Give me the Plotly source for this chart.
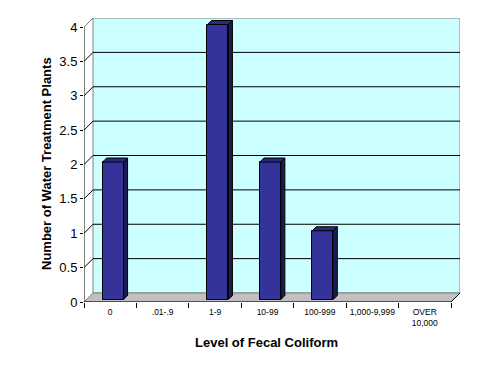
import plotly.graph_objects as go

# ---- data ----
categories = ["0", ".01-.9", "1-9", "10-99", "100-999", "1,000-9,999", "OVER<br>10,000"]
plants = [2, 0, 4, 2, 1, 0, 0]
y_ticks = [0, 0.5, 1, 1.5, 2, 2.5, 3, 3.5, 4]
y_tick_labels = ["0", "0.5", "1", "1.5", "2", "2.5", "3", "3.5", "4"]
x_title = "Level of Fecal Coliform"
y_title = "Number of Water Treatment Plants"

# ---- geometry / style ----
BODY = 8                 # default page margin of the html body
W, H = 491 - 2 * BODY, 374 - 2 * BODY
# target plot area in page pixels: left 84, top 18, right 460, bottom 302
ML, MT = 84 - BODY, 18 - BODY
MR = W - (460 - BODY)
MB = H - (302 - BODY)
PW, PH = W - ML - MR, H - MT - MB
n = len(categories)
ymax = max(y_ticks)
DEPTH_PX = 9            # depth of the 3-D floor / wall
BAR_DEPTH_PX = 4        # depth of each column
BAR_BACK_PX = 2.5       # column front face behind the front plane

x0, x1 = -0.5, n - 0.5
ppx = (PW - DEPTH_PX) / (x1 - x0)
ppy = (PH - DEPTH_PX) / ymax
DX, DY = DEPTH_PX / ppx, DEPTH_PX / ppy
bdx, bdy = BAR_DEPTH_PX / ppx, BAR_DEPTH_PX / ppy
bby = BAR_BACK_PX / ppy
xr = [x0, x1 + DX]
yr = [0, ymax + DY]

FONT = "Liberation Sans, Arial, Helvetica, sans-serif"
FRONT = "#333399"
TOP = "#2a2a80"
SIDE = "#1c1c55"
WALL = "#ccffff"
FLOOR = "#c0c0c0"
GRAY = "#808080"

bar_w = 0.40
bar_off = -0.145

xs = list(range(n))

fig = go.Figure()

# front faces of the columns
fig.add_trace(go.Bar(
    x=xs, y=plants, base=[bby] * n, width=bar_w, offset=bar_off,
    marker=dict(color=FRONT,
                line=dict(color="black", width=[1 if v else 0 for v in plants])),
    showlegend=False, hoverinfo="skip",
))

# side and top faces
for xi, v in zip(xs, plants):
    if not v:
        continue
    l = xi + bar_off
    r = l + bar_w
    b = bby
    t = bby + v
    fig.add_trace(go.Scatter(
        x=[r, r + bdx, r + bdx, r, r], y=[b, b + bdy, t + bdy, t, b],
        mode="lines", fill="toself", fillcolor=SIDE,
        line=dict(color="black", width=1), showlegend=False, hoverinfo="skip"))
    fig.add_trace(go.Scatter(
        x=[l, r, r + bdx, l + bdx, l], y=[t, t, t + bdy, t + bdy, t],
        mode="lines", fill="toself", fillcolor=TOP,
        line=dict(color="black", width=1), showlegend=False, hoverinfo="skip"))

shapes = []
# back wall
shapes.append(dict(type="rect", xref="x", yref="y", layer="below",
                   x0=x0 + DX, x1=x1 + DX, y0=DY, y1=ymax + DY,
                   fillcolor=WALL, line=dict(color=GRAY, width=1)))
# floor
shapes.append(dict(type="path", xref="x", yref="y", layer="below",
                   path=f"M {x0},0 L {x1},0 L {x1 + DX},{DY} L {x0 + DX},{DY} Z",
                   fillcolor=FLOOR, line=dict(color=GRAY, width=1)))
# gridlines with side connectors
for v in y_ticks:
    if v == 0:
        continue
    col = GRAY if v == ymax else "black"
    shapes.append(dict(type="path", xref="x", yref="y", layer="below",
                       path=f"M {x0},{v} L {x0 + DX},{v + DY}" +
                            ("" if v == ymax else f" L {x1 + DX},{v + DY}"),
                       line=dict(color=col, width=1)))
# left floor edge
shapes.append(dict(type="line", xref="x", yref="y", layer="below",
                   x0=x0, y0=0, x1=x0 + DX, y1=DY, line=dict(color=GRAY, width=1)))
# front axis lines
shapes.append(dict(type="line", xref="x", yref="y", layer="above",
                   x0=x0, y0=0, x1=x0, y1=ymax, line=dict(color="black", width=1)))
shapes.append(dict(type="line", xref="x", yref="y", layer="above",
                   x0=x0, y0=0, x1=x1, y1=0, line=dict(color="black", width=1)))
shapes.append(dict(type="line", xref="x", yref="y", layer="above",
                   x0=x1, y0=0, x1=x1 + DX, y1=DY, line=dict(color="black", width=1)))

def px2paper_x(p):
    return (p - BODY - ML) / PW

def px2paper_y(p):
    return (H - MB - (p - BODY)) / PH

annotations = [
    dict(text=f"<b>{x_title}</b>", xref="paper", yref="paper",
         x=px2paper_x(266), y=px2paper_y(342), showarrow=False,
         xanchor="center", yanchor="middle",
         font=dict(family=FONT, size=13, color="black")),
    dict(text=f"<b>{y_title}</b>", xref="paper", yref="paper",
         x=px2paper_x(46), y=px2paper_y(164), showarrow=False, textangle=-90,
         xanchor="center", yanchor="middle",
         font=dict(family=FONT, size=13, color="black")),
]

fig.update_layout(
    template="none",
    width=W, height=H,
    margin=dict(l=ML, r=MR, t=MT, b=MB, pad=0, autoexpand=False),
    paper_bgcolor="white", plot_bgcolor="white",
    showlegend=False, bargap=0,
    shapes=shapes, annotations=annotations,
    font=dict(family=FONT, color="black"),
    xaxis=dict(range=xr, tickmode="array", tickvals=xs, ticktext=categories,
               ticks="outside", ticklen=2, tickcolor="rgba(0,0,0,0)",
               showgrid=False, zeroline=False, showline=False, automargin=False,
               tickfont=dict(family=FONT, size=8.5, color="black"), fixedrange=True),
    xaxis2=dict(range=xr, overlaying="x", anchor="y", side="bottom",
                tickmode="array", tickvals=[x0 + i for i in range(n + 1)],
                ticks="outside", ticklen=5, tickcolor="black", tickwidth=1,
                showticklabels=False, showgrid=False, zeroline=False, showline=False,
                automargin=False),
    yaxis=dict(range=yr, tickmode="array", tickvals=y_ticks, ticktext=y_tick_labels,
               ticks="outside", ticklen=3, tickcolor="black", tickwidth=1,
               showgrid=False, zeroline=False, showline=False, automargin=False,
               tickfont=dict(family=FONT, size=13, color="black"), fixedrange=True),
)

# invisible trace so xaxis2 is drawn
fig.add_trace(go.Scatter(x=[x0], y=[0], xaxis="x2", yaxis="y", mode="markers",
                         marker=dict(opacity=0), showlegend=False, hoverinfo="skip"))

fig.write_html("out.html")
